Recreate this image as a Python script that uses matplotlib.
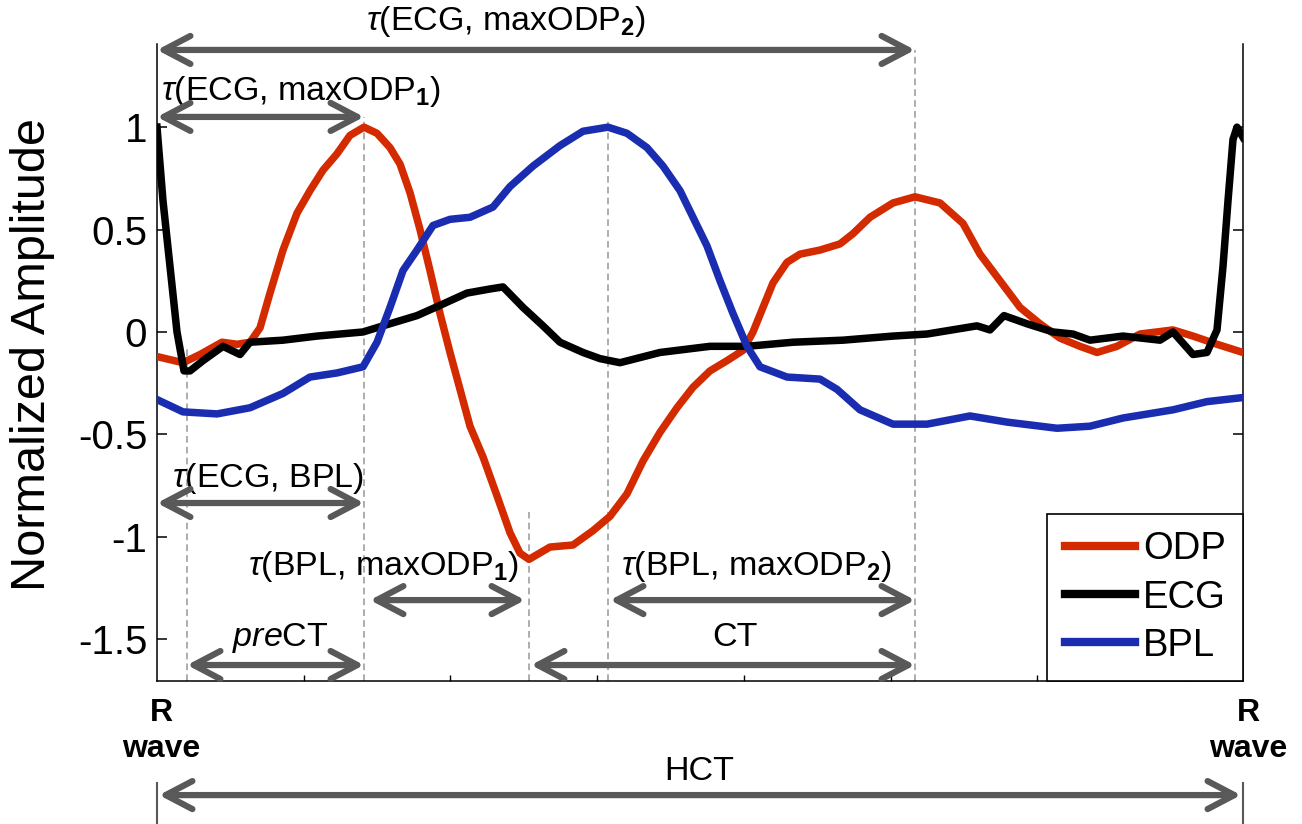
import matplotlib
matplotlib.use("Agg")
import matplotlib.pyplot as plt

plt.rcParams['font.family'] = ['Liberation Sans', 'DejaVu Sans']
plt.rcParams['axes.unicode_minus'] = False
plt.rcParams['mathtext.fontset'] = 'custom'
plt.rcParams['mathtext.rm'] = 'Liberation Sans'
plt.rcParams['mathtext.it'] = 'Liberation Sans:italic'
plt.rcParams['mathtext.bf'] = 'Liberation Sans:bold'

# ---------------- data (time in ms over one cardiac cycle) ----------------
t_odp = [0, 26, 43, 65, 80, 93, 103, 113, 126, 140, 153, 166, 180, 193, 207,
         220, 233, 243, 253, 263, 273, 283, 293, 303, 313, 326, 340, 353, 363,
         372, 393, 416, 436, 453, 470, 486, 503, 520, 536, 553, 570, 586, 596,
         606, 616, 630, 643, 663, 683, 696, 713, 736, 758, 783, 806, 823, 843,
         863, 883, 903, 923, 940, 960, 983, 1016, 1036, 1060, 1086]
odp = [-0.12, -0.15, -0.11, -0.05, -0.06, -0.05, 0.02, 0.19, 0.40, 0.58, 0.69,
       0.79, 0.87, 0.96, 1.00, 0.97, 0.90, 0.82, 0.68, 0.50, 0.30, 0.09, -0.10,
       -0.28, -0.46, -0.61, -0.80, -0.98, -1.08, -1.11, -1.05, -1.04, -0.97,
       -0.90, -0.79, -0.63, -0.49, -0.37, -0.27, -0.19, -0.14, -0.09, 0.00,
       0.12, 0.24, 0.34, 0.38, 0.40, 0.43, 0.48, 0.56, 0.63, 0.66, 0.63, 0.53,
       0.38, 0.25, 0.12, 0.04, -0.03, -0.07, -0.10, -0.07, -0.01, 0.01, -0.02,
       -0.06, -0.10]

t_ecg = [0, 6, 13, 20, 27, 33, 46, 66, 83, 93, 126, 160, 206, 226, 260, 283,
         310, 333, 346, 366, 386, 403, 426, 443, 463, 503, 553, 590, 636, 686,
         736, 770, 820, 833, 847, 870, 896, 916, 933, 966, 1003, 1016, 1036,
         1050, 1060, 1066, 1071, 1076, 1080, 1086]
ecg = [1.00, 0.64, 0.32, 0.00, -0.19, -0.19, -0.14, -0.07, -0.11, -0.05, -0.04,
       -0.02, 0.00, 0.03, 0.08, 0.13, 0.19, 0.21, 0.22, 0.12, 0.03, -0.05,
       -0.10, -0.13, -0.15, -0.10, -0.07, -0.07, -0.05, -0.04, -0.02, -0.01,
       0.03, 0.01, 0.08, 0.04, 0.00, -0.01, -0.04, -0.02, -0.04, 0.00, -0.11,
       -0.10, 0.01, 0.32, 0.64, 0.94, 1.00, 0.95]

t_bpl = [0, 26, 60, 93, 126, 153, 180, 206, 220, 233, 246, 260, 276, 293, 313,
         336, 353, 376, 403, 426, 451, 470, 490, 506, 523, 536, 550, 563, 576,
         590, 603, 630, 663, 680, 703, 736, 770, 813, 850, 900, 933, 966, 1016,
         1050, 1086]
bpl = [-0.33, -0.39, -0.40, -0.37, -0.30, -0.22, -0.20, -0.17, -0.05, 0.12,
       0.30, 0.40, 0.52, 0.55, 0.56, 0.61, 0.71, 0.81, 0.91, 0.98, 1.00, 0.97,
       0.90, 0.81, 0.69, 0.56, 0.42, 0.25, 0.09, -0.07, -0.17, -0.22, -0.23,
       -0.28, -0.38, -0.45, -0.45, -0.41, -0.44, -0.47, -0.46, -0.42, -0.38,
       -0.34, -0.32]

series_names = ['ODP', 'ECG', 'BPL']
series_colors = ['#d42a00', '#000000', '#1a2db0']

# event times (ms)
t_ecg_min = 30
t_odp_max1 = 207
t_odp_min = 372
t_bpl_max = 451
t_odp_max2 = 758
t_cycle = 1086

yticks = [-1.5, -1, -0.5, 0, 0.5, 1]
ytick_labels = ['-1.5', '-1', '-0.5', '0', '0.5', '1']

# ---------------- figure ----------------
fig = plt.figure(figsize=(13.02, 8.24), dpi=100)
ax = fig.add_axes([157 / 1302, 1 - 681 / 824, 1086 / 1302, 637 / 824])
ymin, ymax = -1.704, 1.406
ax.set_xlim(0, t_cycle)
ax.set_ylim(ymin, ymax)

lw = 5.4
ax.plot(t_odp, odp, color=series_colors[0], lw=lw, label=series_names[0], zorder=3)
ax.plot(t_ecg, ecg, color=series_colors[1], lw=lw, label=series_names[1], zorder=4)
ax.plot(t_bpl, bpl, color=series_colors[2], lw=lw, label=series_names[2], zorder=5)

# spines / ticks
ax.spines['top'].set_visible(False)
for s in ['left', 'right', 'bottom']:
    ax.spines[s].set_linewidth(1.1)
ax.set_yticks(yticks)
ax.set_yticklabels(ytick_labels)
ax.tick_params(axis='y', direction='in', length=7, width=1.1, labelsize=29,
               right=True, pad=7)
ax.set_xticks([146.7 * k for k in range(1, 8)])
ax.set_xticklabels([])
ax.tick_params(axis='x', direction='in', length=4, width=1.0)

ax.set_ylabel('Normalized Amplitude', fontsize=35)
ax.yaxis.set_label_coords(-0.094, 0.513)

# dashed guide lines
dash_kw = dict(color='#a0a0a0', lw=1.2, linestyle=(0, (4, 2.5)), zorder=2)
ax.plot([t_ecg_min, t_ecg_min], [ymin, -0.07], **dash_kw)
ax.plot([t_odp_max1, t_odp_max1], [ymin, 1.05], **dash_kw)
ax.plot([t_odp_min, t_odp_min], [ymin, -0.88], **dash_kw)
ax.plot([t_bpl_max, t_bpl_max], [ymin, 1.035], **dash_kw)
ax.plot([t_odp_max2, t_odp_max2], [ymin, 1.377], **dash_kw)

arrow_color = '#595959'


def darrow(x0, x1, y):
    ax.annotate('', xy=(x1, y), xytext=(x0, y), annotation_clip=False,
                arrowprops=dict(arrowstyle='<->,head_length=0.8,head_width=0.42',
                                color=arrow_color, lw=4.5, mutation_scale=24,
                                shrinkA=0, shrinkB=0), zorder=6)


fs = 24.5
darrow(0, t_odp_max2, 1.377)
ax.text(349, 1.514, r'$\tau$(ECG, maxODP$_\mathbf{2}$)', fontsize=fs,
        ha='center', va='center')
darrow(0, t_odp_max1, 1.050)
ax.text(144, 1.172, r'$\tau$(ECG, maxODP$_\mathbf{1}$)', fontsize=fs,
        ha='center', va='center')
darrow(0, t_odp_max1, -0.835)
ax.text(111, -0.713, r'$\tau$(ECG, BPL)', fontsize=fs, ha='center', va='center')
darrow(t_odp_max1 + 6, t_odp_min - 4, -1.309)
ax.text(226, -1.147, r'$\tau$(BPL, maxODP$_\mathbf{1}$)', fontsize=fs,
        ha='center', va='center')
darrow(t_bpl_max + 2, t_odp_max2, -1.309)
ax.text(599, -1.147, r'$\tau$(BPL, maxODP$_\mathbf{2}$)', fontsize=fs,
        ha='center', va='center')
darrow(t_ecg_min, t_odp_max1, -1.626)
ax.text(123, -1.494, r'$pre$CT', fontsize=fs, ha='center', va='center')
darrow(t_odp_min + 2, t_odp_max2, -1.626)
ax.text(578, -1.494, 'CT', fontsize=fs, ha='center', va='center')

# HCT arrow below the axes
darrow(2, t_cycle - 2, -2.261)
ax.text(542, -2.148, 'HCT', fontsize=fs, ha='center', va='center')
for xv in [0, t_cycle]:
    ax.plot([xv, xv], [-2.202, -2.402], color=arrow_color, lw=1.5, clip_on=False)

# R wave labels
for xv in [4, 1091]:
    ax.text(xv, -1.948, 'R\nwave', fontsize=23, fontweight='bold', ha='center',
            va='center', linespacing=1.25)

leg = ax.legend(loc='lower right', borderaxespad=0, frameon=True, fancybox=False,
                edgecolor='black', framealpha=1, fontsize=27.5, handlelength=1.85,
                handletextpad=0.2, labelspacing=0.32, borderpad=0.45)
leg.get_frame().set_linewidth(1.2)
for line in leg.get_lines():
    line.set_linewidth(6)

fig.savefig('out.png', dpi=100)
